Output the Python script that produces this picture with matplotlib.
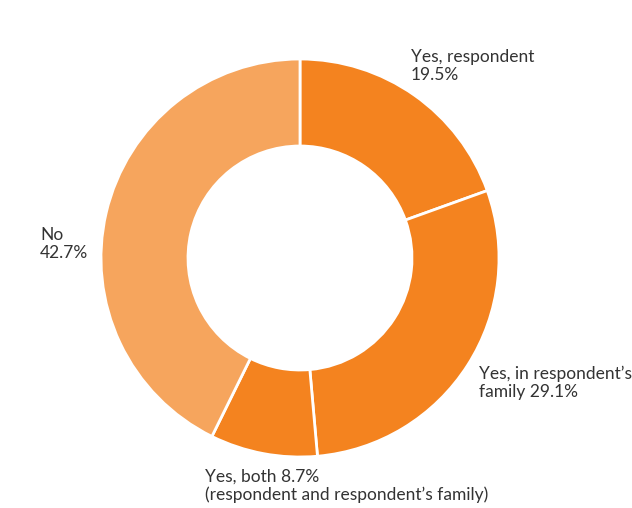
import matplotlib.pyplot as plt

# share of answers, clockwise from 12 o'clock
labels = ["Yes, respondent", "Yes, in respondent\u2019s family", "Yes, both", "No"]
shares = [19.5, 29.1, 8.7, 42.7]
colors = ["#F4831F", "#F4831F", "#F4831F", "#F6A55D"]

plt.rcParams["font.family"] = ["Lato", "DejaVu Sans"]

fig = plt.figure(figsize=(6.32, 5.08), dpi=100)
ax = fig.add_axes([0, 0, 1, 1])
ax.set_xlim(0, 632)
ax.set_ylim(0, 508)
ax.set_aspect("equal")
ax.axis("off")

ax.pie(shares, colors=colors, startangle=90, counterclock=False,
       center=(300, 250), radius=199,
       wedgeprops=dict(width=87, edgecolor="white", linewidth=2))
ax.set_xlim(0, 632)
ax.set_ylim(0, 508)

txt = dict(fontsize=12.5, color="#333333", va="top", ha="left", linespacing=1.12)
ax.text(411, 459, "Yes, respondent\n%.1f%%" % shares[0], **txt)
ax.text(479, 142, "Yes, in respondent\u2019s\nfamily %.1f%%" % shares[1], **txt)
ax.text(205, 39, "Yes, both %.1f%%\n(respondent and respondent\u2019s family)" % shares[2], **txt)
ax.text(40, 281, "No\n%.1f%%" % shares[3], **txt)

fig.savefig("out.png", dpi=100)
